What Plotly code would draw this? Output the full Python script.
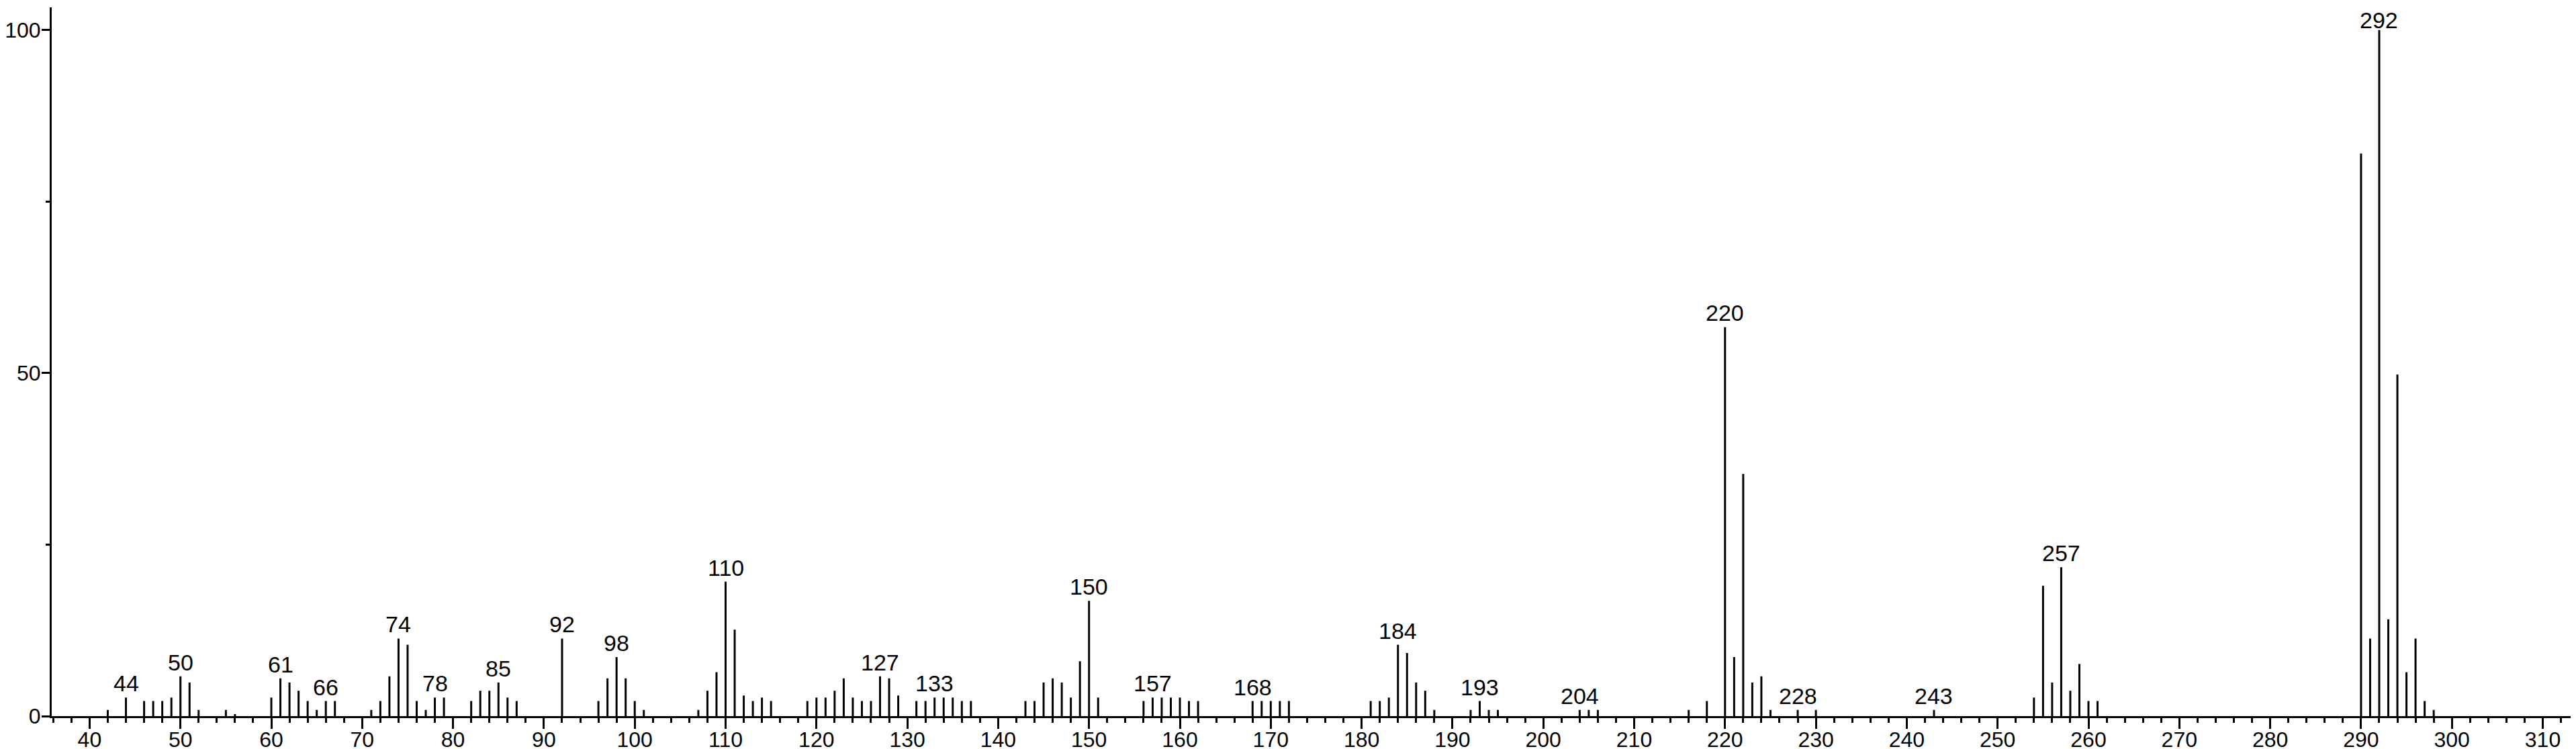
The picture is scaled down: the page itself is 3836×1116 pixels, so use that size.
"""
Mass spectrum stick plot: relative abundance vs m/z, with the main peaks labelled.
"""

import plotly.graph_objects as go

# m/z values and relative intensities (%)
mz = [
    42, 44, 46, 47, 48, 49, 50, 51, 52, 55, 56, 60, 61, 62, 63, 64, 65, 66, 67,
    71, 72, 73, 74, 75, 76, 77, 78, 79, 82, 83, 84, 85, 86, 87, 92, 96, 97, 98,
    99, 100, 101, 107, 108, 109, 110, 111, 112, 113, 114, 115, 119, 120, 121,
    122, 123, 124, 125, 126, 127, 128, 129, 131, 132, 133, 134, 135, 136, 137,
    143, 144, 145, 146, 147, 148, 149, 150, 151, 156, 157, 158, 159, 160, 161,
    162, 168, 169, 170, 171, 172, 181, 182, 183, 184, 185, 186, 187, 188, 192,
    193, 194, 195, 204, 205, 206, 216, 218, 220, 221, 222, 223, 224, 225, 228,
    230, 243, 254, 255, 256, 257, 258, 259, 260, 261, 290, 291, 292, 293, 294,
    295, 296, 297, 298,
]
intensity = [
    0.9, 2.7, 2.2, 2.2, 2.2, 2.7, 5.8, 4.9, 0.9, 0.9, 0.3, 2.7, 5.5, 4.9, 3.7,
    2.2, 0.9, 2.2, 2.2, 0.9, 2.2, 5.8, 11.3, 10.4, 2.2, 0.9, 2.7, 2.7, 2.2, 3.7,
    3.7, 4.9, 2.7, 2.2, 11.3, 2.2, 5.5, 8.6, 5.5, 2.2, 0.9, 0.9, 3.7, 6.4, 19.6,
    12.6, 3.0, 2.2, 2.7, 2.2, 2.2, 2.7, 2.7, 3.7, 5.5, 2.7, 2.2, 2.2, 5.8, 5.5,
    3.0, 2.2, 2.2, 2.7, 2.7, 2.7, 2.2, 2.2, 2.2, 2.2, 4.9, 5.5, 4.9, 2.7, 8.0,
    16.8, 2.7, 2.2, 2.7, 2.7, 2.7, 2.7, 2.2, 2.2, 2.2, 2.2, 2.2, 2.2, 2.2, 2.2,
    2.2, 2.7, 10.4, 9.2, 4.9, 3.7, 0.9, 0.9, 2.2, 0.9, 0.9, 0.9, 0.9, 0.9, 0.9,
    2.2, 56.7, 8.6, 35.3, 4.9, 5.8, 0.9, 0.9, 0.9, 0.9, 2.7, 19.0, 4.9, 21.7,
    3.7, 7.6, 2.2, 2.2, 82.0, 11.3, 100.0, 14.1, 49.8, 6.4, 11.3, 2.2, 0.9,
]

# peaks that carry an m/z label
labelled_mz = [
    44, 50, 61, 66, 74, 78, 85, 92, 98, 110, 127, 133, 150, 157, 168, 184,
    193, 204, 220, 228, 243, 257, 292,
]

FONT = "Liberation Sans, Arial, sans-serif"
PEAK_TEXT = 34
TICK_TEXT = 32

# one polyline with gaps: each stick runs from 0 up to its intensity
stick_x, stick_y = [], []
for m, h in zip(mz, intensity):
    stick_x += [m, m, None]
    stick_y += [0, h, None]

height_of = dict(zip(mz, intensity))

fig = go.Figure()
fig.add_trace(go.Scatter(
    x=stick_x, y=stick_y, mode="lines",
    line={"color": "black", "width": 3},
    hoverinfo="skip", showlegend=False,
))

# peak labels sit just above their stick; the base peak is tucked in a bit
# so its label stays inside the page
for m in labelled_mz:
    h = height_of[m]
    fig.add_annotation(
        x=m, y=h, text=str(m), showarrow=False,
        xanchor="center", yanchor="bottom",
        yshift=-6 if h > 95 else 0,
        font={"family": FONT, "size": PEAK_TEXT, "color": "black"},
    )

axis_common = dict(
    showline=True, linecolor="black", linewidth=3,
    showgrid=False, zeroline=False, automargin=False,
    ticks="outside", tickcolor="black", tickwidth=3,
    tickfont={"family": FONT, "size": TICK_TEXT, "color": "black"},
)

fig.update_xaxes(
    range=[35.83, 314.25], dtick=10, tick0=0, ticklen=16,
    ticklabelstandoff=-11,
    minor={"dtick": 2, "tick0": 0, "ticklen": 7, "tickwidth": 3,
           "ticks": "outside", "tickcolor": "black"},
    **axis_common,
)
fig.update_yaxes(
    range=[0, 103.3], tickvals=[0, 50, 100], ticklen=12,
    ticklabelstandoff=-5,
    minor={"tickvals": [25, 75], "ticklen": 6, "tickwidth": 3,
           "ticks": "outside", "tickcolor": "black"},
    **axis_common,
)

fig.update_layout(
    width=3836, height=1116,
    margin={"l": 69, "r": 0, "t": 3, "b": 57},
    plot_bgcolor="white", paper_bgcolor="white",
    font={"family": FONT},
)

fig.write_html("out.html")
